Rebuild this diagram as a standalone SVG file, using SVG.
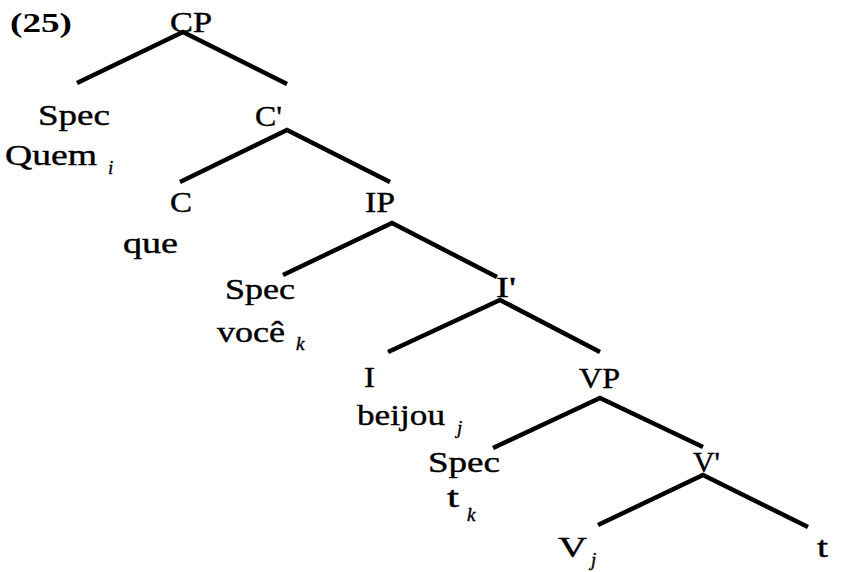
<svg xmlns="http://www.w3.org/2000/svg" width="841" height="572" viewBox="0 0 841 572">
  <style>
    .lbl { font-family: "Liberation Serif", "Times New Roman", serif; font-size: 29px; font-weight: normal; fill: #000; stroke: #000; stroke-width: 0.4; }
    .num { font-family: "Liberation Serif", "Times New Roman", serif; font-size: 28px; font-weight: bold; fill: #000; }
    .sub { font-family: "Liberation Serif", "Times New Roman", serif; font-size: 19px; font-style: italic; fill: #000; stroke: #000; stroke-width: 0.4; }
    .edge { stroke: #000; stroke-width: 4.5; stroke-linecap: butt; fill: none; }
  </style>
  <rect width="841" height="572" fill="#fff"/>

  <!-- example number -->
  <text class="num" x="10" y="32" textLength="62" lengthAdjust="spacingAndGlyphs">(25)</text>

  <!-- tree branches -->
  <g id="connectors">
    <path class="edge" d="M77,83 L183,32 L287,84"/>
    <path class="edge" d="M180,182 L287,130 L390,182"/>
    <path class="edge" d="M283,275 L392,223 L497,277"/>
    <path class="edge" d="M388,352 L500,300 L600,352"/>
    <path class="edge" d="M493,448 L600,398 L703,447"/>
    <path class="edge" d="M598,525 L703,475 L808,527"/>
  </g>

  <g id="CP"><text class="lbl" x="170" y="32" textLength="42" lengthAdjust="spacingAndGlyphs">CP</text></g>
  <g id="SpecCP">
    <text class="lbl" x="38" y="125" textLength="72" lengthAdjust="spacingAndGlyphs">Spec</text>
    <text class="lbl" x="5" y="165" textLength="92" lengthAdjust="spacingAndGlyphs">Quem</text>
    <text class="sub" x="108" y="174">i</text>
  </g>
  <g id="Cbar"><text class="lbl" x="255" y="126" textLength="27" lengthAdjust="spacingAndGlyphs">C'</text></g>
  <g id="C">
    <text class="lbl" x="170" y="212" textLength="22" lengthAdjust="spacingAndGlyphs">C</text>
    <text class="lbl" x="123" y="253" textLength="55" lengthAdjust="spacingAndGlyphs">que</text>
  </g>
  <g id="IP"><text class="lbl" x="365" y="212" textLength="30" lengthAdjust="spacingAndGlyphs">IP</text></g>
  <g id="SpecIP">
    <text class="lbl" x="225" y="299" textLength="70" lengthAdjust="spacingAndGlyphs">Spec</text>
    <text class="lbl" x="217" y="342" textLength="68" lengthAdjust="spacingAndGlyphs">você</text>
    <text class="sub" x="296" y="350">k</text>
  </g>
  <g id="Ibar"><text class="lbl" x="496" y="297" textLength="20" lengthAdjust="spacingAndGlyphs">I'</text></g>
  <g id="I">
    <text class="lbl" x="364" y="387" textLength="11" lengthAdjust="spacingAndGlyphs">I</text>
    <text class="lbl" x="357" y="425" textLength="88" lengthAdjust="spacingAndGlyphs">beijou</text>
    <text class="sub" x="457" y="434">j</text>
  </g>
  <g id="VP"><text class="lbl" x="579" y="388" textLength="41" lengthAdjust="spacingAndGlyphs">VP</text></g>
  <g id="SpecVP">
    <text class="lbl" x="428" y="472" textLength="72" lengthAdjust="spacingAndGlyphs">Spec</text>
    <text class="lbl" x="447" y="507" textLength="12" lengthAdjust="spacingAndGlyphs">t</text>
    <text class="sub" x="467" y="521">k</text>
  </g>
  <g id="Vbar"><text class="lbl" x="693" y="472" textLength="27" lengthAdjust="spacingAndGlyphs">V'</text></g>
  <g id="V">
    <text class="lbl" x="558" y="557" textLength="29" lengthAdjust="spacingAndGlyphs">V</text>
    <text class="sub" x="591" y="566">j</text>
  </g>
  <g id="trace"><text class="lbl" x="817" y="557" textLength="11" lengthAdjust="spacingAndGlyphs">t</text></g>
</svg>
